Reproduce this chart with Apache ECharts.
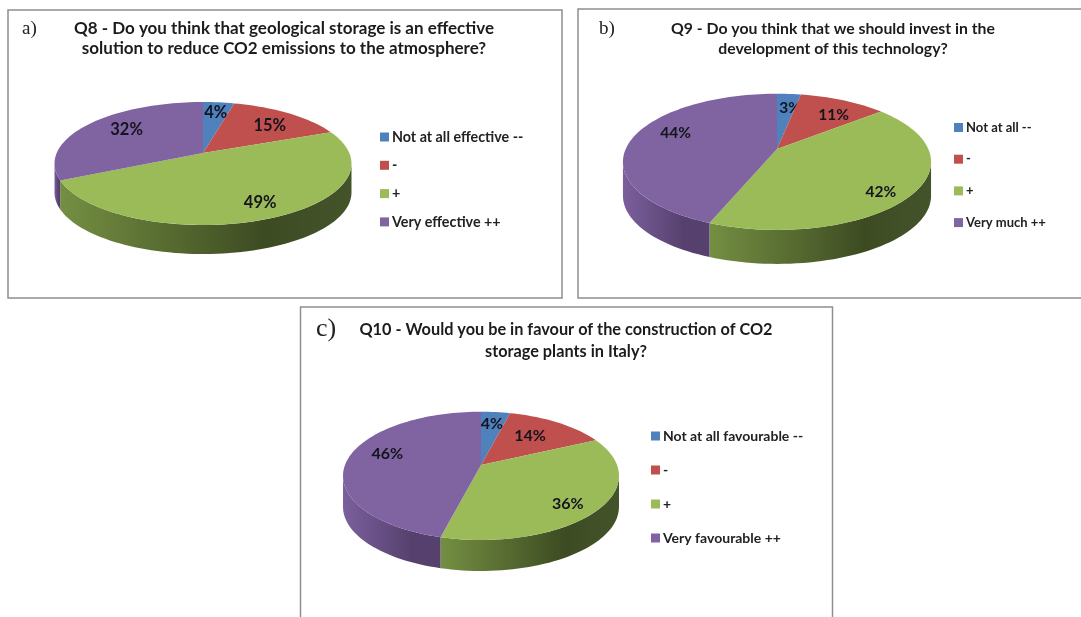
<!DOCTYPE html>
<html>
<head>
<meta charset="utf-8">
<style>html,body{margin:0;padding:0;background:#fff}#chart{width:1081px;height:617px}</style>
<script src="https://cdn.jsdelivr.net/npm/echarts@6/dist/echarts.min.js"></script>
</head>
<body>
<div id="chart"></div>
<script>
// Survey answers, percent of respondents
const q8Values = [4, 15, 49, 32];
const q9Values = [3, 11, 42, 44];
const q10Values = [4, 14, 36, 46];

const q8Categories = ['Not at all effective --', '-', '+', 'Very effective ++'];
const q9Categories = ['Not at all --', '-', '+', 'Very much ++'];
const q10Categories = ['Not at all favourable --', '-', '+', 'Very favourable ++'];

const q8Title = 'Q8 - Do you think that geological storage is an effective\nsolution to reduce CO2 emissions to the atmosphere?';
const q9Title = 'Q9 - Do you think that we should invest in the\ndevelopment of this technology?';
const q10Title = 'Q10 - Would you be in favour of the construction of CO2\nstorage plants in Italy?';

const topColors = ['#4f81bd', '#c0504d', '#9bbb59', '#8064a2'];
// Wall shading runs from the lit left side to the shaded right side of each slice
const wallStops = [
  ['#4a76a8', '#2b4a70', '#2b4a70'],
  ['#9c4240', '#5e2a28', '#5e2a28'],
  ['#748f42', '#3d4b22', '#44542a'],
  ['#7b5f9d', '#56416e', '#56416e']
];

const textFont = 'Lato, "Open Sans", sans-serif';

// Layout of each panel: pie projection (k = perspective), legend, title and label placement
const panels = [
  {
    values: q8Values, categories: q8Categories, title: q8Title, tag: 'a)', tagSize: 19,
    tagX: 22, tagY: 20, titleX: 284, titleY: 19, titleSize: 17, titleLine: 20,
    cx: 203, cy: 153, a: 146.3, b: 59.7, k: 0.171, depth: 29,
    legendX: 380, legendY: 130, legendGap: 14.3, legendSize: 14.3,
    labelSize: 16.5, labelNudge: [[1, -2], [3, 2], [10, 5], [7, -2]]
  },
  {
    values: q9Values, categories: q9Categories, title: q9Title, tag: 'b)', tagSize: 19,
    tagX: 599, tagY: 20, titleX: 833, titleY: 19, titleSize: 15.8, titleLine: 20,
    cx: 777, cy: 149, a: 151.3, b: 65.7, k: 0.188, depth: 34,
    legendX: 954, legendY: 121, legendGap: 18.7, legendSize: 13,
    labelSize: 15.5, labelNudge: [[4, 1], [7, 2], [8, 13], [3, -7]]
  },
  {
    values: q10Values, categories: q10Categories, title: q10Title, tag: 'c)', tagSize: 26,
    tagX: 316, tagY: 316, titleX: 566, titleY: 319, titleSize: 16.3, titleLine: 21.5,
    cx: 481, cy: 465, a: 136, b: 62.3, k: 0.169, depth: 31,
    legendX: 651, legendY: 429, legendGap: 20, legendSize: 14,
    labelSize: 16, labelNudge: [[0, -1], [-8, 2], [5, 8], [2, -6]]
  }
];

const LABEL_RADIUS = 0.72;

// Perspective projection of a point on the pie's disc (r in 0..1, angle clockwise from the top)
function project(p, r, angle) {
  const x = r * Math.sin(angle);
  const z = r * Math.cos(angle);
  const w = 1 + p.k * z;
  return [p.cx + p.a * x / w, p.cy - p.b * z / w];
}

function rimPoints(p, from, to) {
  const steps = Math.max(2, Math.ceil((to - from) / (Math.PI / 90)));
  const pts = [];
  for (let i = 0; i <= steps; i++) {
    pts.push(project(p, 1, from + (to - from) * i / steps));
  }
  return pts;
}

function sliceRenderer(p, startShare, idx) {
  return function (params, api) {
    const share = api.value(0);
    const total = p.values.reduce((s, v) => s + v, 0);
    const from = startShare / total * 2 * Math.PI;
    const to = (startShare + share) / total * 2 * Math.PI;
    const children = [];

    // The wall is visible between the two silhouette angles of the projected rim
    const silhouette = Math.acos(-p.k);
    const wallFrom = Math.max(from, silhouette);
    const wallTo = Math.min(to, 2 * Math.PI - silhouette);
    if (wallTo > wallFrom) {
      const upper = rimPoints(p, wallFrom, wallTo);
      const lower = upper.map(q => [q[0], q[1] + p.depth]).reverse();
      const goesLeft = upper[0][0] > upper[upper.length - 1][0];
      children.push({
        type: 'polygon',
        shape: { points: upper.concat(lower) },
        style: {
          fill: new echarts.graphic.LinearGradient(goesLeft ? 0 : 1, 0, goesLeft ? 1 : 0, 0, [
            { offset: 0, color: wallStops[idx][0] },
            { offset: 0.7, color: wallStops[idx][1] },
            { offset: 1, color: wallStops[idx][2] }
          ])
        }
      });
    }

    children.push({
      type: 'polygon',
      shape: { points: [project(p, 0, 0)].concat(rimPoints(p, from, to)) },
      style: { fill: topColors[idx] }
    });

    const at = project(p, LABEL_RADIUS, (from + to) / 2);
    children.push({
      type: 'text',
      x: at[0] + p.labelNudge[idx][0],
      y: at[1] + p.labelNudge[idx][1],
      style: {
        text: share + '%',
        fill: '#14141e',
        font: 'bold ' + p.labelSize + 'px ' + textFont,
        textAlign: 'center',
        textVerticalAlign: 'middle'
      }
    });
    return { type: 'group', children: children };
  };
}

const series = [];
const legends = [];
const titles = [];

panels.forEach(function (p) {
  let running = 0;
  p.values.forEach(function (value, i) {
    series.push({
      type: 'custom',
      name: p.categories[i],
      coordinateSystem: 'none',
      silent: true,
      animation: false,
      itemStyle: { color: topColors[i] },
      renderItem: sliceRenderer(p, running, i),
      data: [[value]]
    });
    running += value;
  });
  legends.push({
    orient: 'vertical',
    left: p.legendX,
    top: p.legendY,
    itemWidth: 9,
    itemHeight: 9,
    itemGap: p.legendGap,
    padding: 0,
    selectedMode: false,
    icon: 'rect',
    textStyle: { fontFamily: textFont, fontWeight: 'bold', fontSize: p.legendSize, color: '#222', padding: [0, 0, 0, -2] },
    data: p.categories.map((name, i) => ({ name: name, itemStyle: { color: topColors[i] } }))
  });
  titles.push({
    text: p.title,
    left: p.titleX,
    top: p.titleY,
    textAlign: 'center',
    padding: 0,
    textStyle: { fontFamily: textFont, fontWeight: 'bold', fontSize: p.titleSize, lineHeight: p.titleLine, color: '#1c1c1c' }
  });
  titles.push({
    text: p.tag,
    left: p.tagX,
    top: p.tagY,
    padding: 0,
    textStyle: { fontFamily: '"Liberation Serif", serif', fontWeight: 'normal', fontSize: p.tagSize, color: '#222' }
  });
});

const frame = (x, y, w, h) => ({
  type: 'rect',
  silent: true,
  shape: { x: x, y: y, width: w, height: h },
  style: { fill: '#fff', stroke: '#8f8f8f', lineWidth: 1.5 },
  z: -1
});

const chart = echarts.init(document.getElementById('chart'), null, { renderer: 'canvas' });
chart.setOption({
  backgroundColor: '#fff',
  animation: false,
  color: topColors,
  title: titles,
  legend: legends,
  graphic: [frame(8, 10, 554, 288), frame(578, 9, 520, 289), frame(300.5, 307, 532, 330)],
  series: series
});
</script>
</body>
</html>
